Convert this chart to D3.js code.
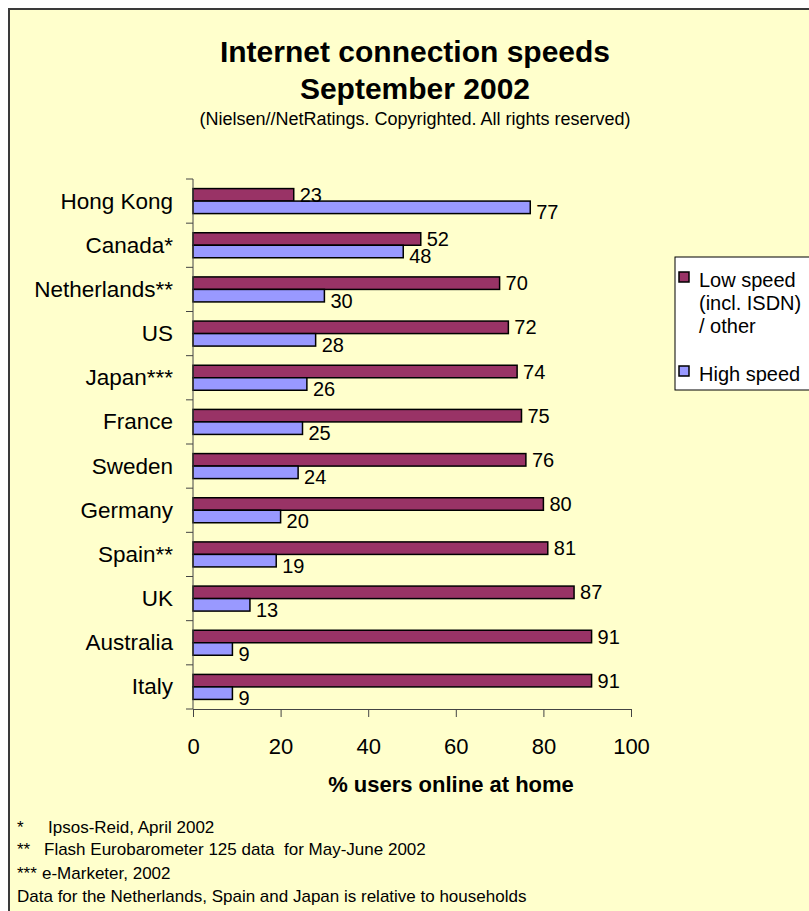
<!DOCTYPE html>
<html>
<head>
<meta charset="utf-8">
<script src="https://cdn.jsdelivr.net/npm/d3@7"></script>
<style>
  body { margin: 0; background: #fff; }
  svg { display: block; font-family: "Liberation Sans", Arial, sans-serif; }
</style>
</head>
<body>
<svg width="809" height="911"></svg>
<script>
// **** Data ****

var countries = ["Hong Kong", "Canada*", "Netherlands**", "US", "Japan***", "France",
    "Sweden", "Germany", "Spain**", "UK", "Australia", "Italy"];
var lowSpeed = [23, 52, 70, 72, 74, 75, 76, 80, 81, 87, 91, 91];
var highSpeed = [77, 48, 30, 28, 26, 25, 24, 20, 19, 13, 9, 9];
var xTicks = [0, 20, 40, 60, 80, 100];
var seriesNames = ["Low speed", "High speed"];
var legendLabels = [["Low speed", "(incl. ISDN)", "/ other"], ["High speed"]];
var footnotes = [
    ["*", "Ipsos-Reid, April 2002"],
    ["**", "Flash Eurobarometer 125 data  for May-June 2002"],
    ["***", "e-Marketer, 2002"],
    ["", "Data for the Netherlands, Spain and Japan is relative to households"]
];

var colors = { "Low speed": "#993366", "High speed": "#9999FF" };

// **** Scales ****

var svg = d3.select('svg');

var xScale = d3.scaleLinear()
    .domain([0, 100]).range([193, 631]);

var yScale = d3.scaleBand()
    .domain(countries)
    .range([179, 709])
    .paddingInner(0.434)
    .paddingOuter(0.217);

var subScale = d3.scaleBand()
    .domain(seriesNames)
    .range([0, yScale.bandwidth()]);

// **** Background and titles ****

svg.append("rect")
    .attr("x", 9).attr("y", 9)
    .attr("width", 900).attr("height", 1000)
    .attr("fill", "#FFFFCC")
    .attr("stroke", "#3a3a3a")
    .attr("stroke-width", 2);

svg.append("text")
    .attr("text-anchor", "middle")
    .attr("x", 415).attr("y", 62)
    .style("font-size", "30px").style("font-weight", "bold")
    .text("Internet connection speeds");

svg.append("text")
    .attr("text-anchor", "middle")
    .attr("x", 415).attr("y", 99)
    .style("font-size", "30px").style("font-weight", "bold")
    .text("September 2002");

svg.append("text")
    .attr("text-anchor", "middle")
    .attr("x", 415).attr("y", 125)
    .style("font-size", "18px")
    .text("(Nielsen//NetRatings. Copyrighted. All rights reserved)");

// **** Bars ****

var rows = countries.map((c, i) => ({
    country: c,
    values: [
        { series: "Low speed", value: lowSpeed[i] },
        { series: "High speed", value: highSpeed[i] }
    ]
}));

var row = svg.selectAll(".row")
    .data(rows)
    .enter()
    .append("g")
    .attr("class", "row")
    .attr("transform", d => `translate(0,${yScale(d.country)})`);

row.selectAll("rect")
    .data(d => d.values)
    .enter()
    .append("rect")
    .attr("x", xScale(0))
    .attr("y", d => subScale(d.series))
    .attr("width", d => xScale(d.value) - xScale(0))
    .attr("height", subScale.bandwidth())
    .attr("fill", d => colors[d.series])
    .attr("stroke", "#000")
    .attr("stroke-width", 1.5);

row.selectAll("text")
    .data(d => d.values)
    .enter()
    .append("text")
    .attr("x", d => xScale(d.value) + 6)
    .attr("y", d => subScale(d.series) + subScale.bandwidth() / 2 + (d.series === "Low speed" ? 7 : 12))
    .style("font-size", "20px")
    .text(d => d.value);

// **** Axes ****

var step = yScale.step();
var y0 = yScale.range()[0];
var boundaries = d3.range(countries.length + 1).map(i => y0 + i * step);

svg.append("line")
    .attr("x1", xScale(0)).attr("x2", xScale(0))
    .attr("y1", y0).attr("y2", yScale.range()[1])
    .attr("stroke", "#444");

svg.selectAll(".ytick")
    .data(boundaries)
    .enter()
    .append("line")
    .attr("class", "ytick")
    .attr("x1", xScale(0) - 7).attr("x2", xScale(0))
    .attr("y1", d => d).attr("y2", d => d)
    .attr("stroke", "#444");

svg.selectAll(".ylabel")
    .data(countries)
    .enter()
    .append("text")
    .attr("class", "ylabel")
    .attr("text-anchor", "end")
    .attr("x", 173)
    .attr("y", d => yScale(d) + yScale.bandwidth() / 2 + 7.5)
    .style("font-size", "22.5px")
    .text(d => d);

var xAxis = svg.append('g')
    .attr('transform', 'translate(0,709)')
    .call(d3.axisBottom(xScale).tickValues(xTicks).tickSize(8).tickPadding(21));

xAxis.select(".domain").attr("stroke", "#444");
xAxis.selectAll(".tick line").attr("stroke", "#444");
xAxis.selectAll(".tick text")
    .style("font-size", "22px")
    .style("font-family", "Liberation Sans, Arial, sans-serif")
    .attr("fill", "#000");

svg.append("text")
    .attr("text-anchor", "middle")
    .attr("x", 451).attr("y", 792)
    .style("font-size", "22px").style("font-weight", "bold")
    .text("% users online at home");

// **** Legend ****

var legend = svg.append("g").attr("class", "legend");

legend.append("rect")
    .attr("x", 675).attr("y", 257)
    .attr("width", 200).attr("height", 133)
    .attr("fill", "#fff")
    .attr("stroke", "#000");

var legendTop = [272, 366];

seriesNames.forEach((s, i) => {
    legend.append("rect")
        .attr("x", 679).attr("y", legendTop[i])
        .attr("width", 10).attr("height", 10)
        .attr("fill", colors[s])
        .attr("stroke", "#000")
        .attr("stroke-width", 1.5);

    legend.append("text")
        .attr("x", 699)
        .attr("y", legendTop[i] + 15)
        .style("font-size", "20px")
        .selectAll("tspan")
        .data(legendLabels[i])
        .enter()
        .append("tspan")
        .attr("x", 699)
        .attr("dy", (d, j) => j === 0 ? 0 : 23)
        .text(d => d);
});

// **** Footnotes ****

var noteY = [833, 855, 878.5, 901.5];
var noteX = [48, 44, 42, 17];

footnotes.forEach((n, i) => {
    var t = svg.append("text")
        .attr("y", noteY[i])
        .style("font-size", "17px")
        .style("white-space", "pre");
    if (n[0]) t.append("tspan").attr("x", 17).text(n[0]);
    t.append("tspan").attr("x", noteX[i]).text(n[1]);
});
</script>
</body>
</html>
